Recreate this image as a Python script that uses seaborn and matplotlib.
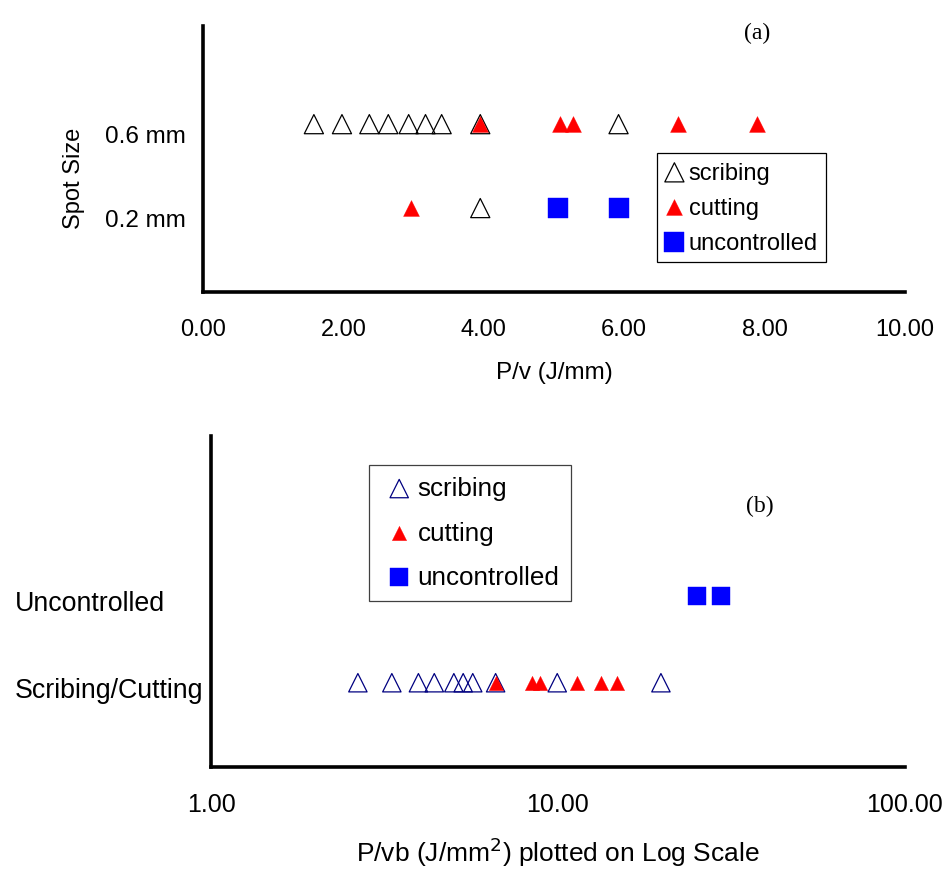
import matplotlib

matplotlib.use("Agg")
import matplotlib.pyplot as plt
import matplotlib.ticker as mticker
import matplotlib.transforms as mtransforms
import pandas as pd
import seaborn as sns

# (a) P/v (J/mm) by spot size
spot_sizes = ["0.2 mm", "0.6 mm"]
scribing_06 = [1.58, 1.98, 2.37, 2.64, 2.93, 3.17, 3.40, 3.95, 5.92]
cutting_06 = [3.95, 5.08, 5.27, 6.76, 7.89]
scribing_02 = [3.95]
cutting_02 = [2.96]
uncontrolled_02 = [5.06, 5.92]
ticks_a = [0, 2, 4, 6, 8, 10]

# (b) P/vb (J/mm^2), log scale
regimes = ["Scribing/Cutting", "Uncontrolled"]
scribing_b = [2.65, 3.32, 3.96, 4.40, 5.01, 5.33, 5.68, 6.61, 9.95, 19.8]
cutting_b = [6.61, 8.40, 8.88, 11.32, 13.28, 14.82]
uncontrolled_b = [25.2, 29.5]
ticks_b = [1, 10, 100]


def rows(values, category, categories):
    return pd.DataFrame({"x": values, "y": [categories.index(category) + 1] * len(values)})


def shift_labels(labels, dy_px, fig):
    shift = mtransforms.ScaledTranslation(0, -dy_px / fig.dpi, fig.dpi_scale_trans)
    for lbl in labels:
        lbl.set_transform(lbl.get_transform() + shift)


sns.set_theme(style="white")
plt.rcParams["font.family"] = ["Liberation Sans", "DejaVu Sans"]
plt.rcParams.update({"text.color": "black", "axes.labelcolor": "black",
                     "xtick.color": "black", "ytick.color": "black"})

fig = plt.figure(figsize=(9.48, 8.78), dpi=100)
ax_a = fig.add_axes([0.2141, 0.6663, 0.7405, 0.3030])
ax_b = fig.add_axes([0.2226, 0.1253, 0.7320, 0.3770])

# ---- panel (a)
scr_a = pd.concat([rows(scribing_06, "0.6 mm", spot_sizes), rows(scribing_02, "0.2 mm", spot_sizes)])
cut_a = pd.concat([rows(cutting_06, "0.6 mm", spot_sizes), rows(cutting_02, "0.2 mm", spot_sizes)])
unc_a = rows(uncontrolled_02, "0.2 mm", spot_sizes)

sns.scatterplot(data=scr_a, x="x", y="y", marker="^", s=190, facecolor="none",
                edgecolor="black", linewidth=0.9, label="scribing", ax=ax_a, zorder=3)
sns.scatterplot(data=cut_a, x="x", y="y", marker="^", s=130, facecolor="#ff0000",
                edgecolor="#ff0000", linewidth=0.3, label="cutting", ax=ax_a, zorder=4)
sns.scatterplot(data=unc_a, x="x", y="y", marker="s", s=200, facecolor="#0000ff",
                edgecolor="#0000ff", linewidth=0.3, label="uncontrolled", ax=ax_a, zorder=4)

ax_a.set_xlim(0, 10)
ax_a.set_ylim(0, 3.17)
ax_a.set_xticks(ticks_a)
ax_a.xaxis.set_major_formatter(mticker.FormatStrFormatter("%.2f"))
ax_a.set_yticks(range(1, len(spot_sizes) + 1))
ax_a.set_yticklabels(spot_sizes)
ax_a.set_xlabel("P/v (J/mm)", fontsize=17.5, labelpad=15)
ax_a.set_ylabel("Spot Size", fontsize=17)
ax_a.yaxis.set_label_coords(-0.168, 0.43)
ax_a.tick_params(axis="x", length=7, width=2.2, pad=12, labelsize=17, direction="out")
ax_a.tick_params(axis="y", length=0, pad=12, labelsize=17.5)
shift_labels(ax_a.get_yticklabels(), 9, fig)
ax_a.text(0.79, 0.975, "(a)", transform=ax_a.transAxes, ha="center", va="center",
          fontsize=17, family=["Liberation Serif", "DejaVu Serif"])
leg_a = ax_a.legend(loc="upper left", bbox_to_anchor=(0.6927, 0.8243), bbox_transform=fig.transFigure,
                    borderaxespad=0, fontsize=17, frameon=True, fancybox=False, framealpha=1,
                    edgecolor="black", labelspacing=0.55, borderpad=0.35, handlelength=0.8,
                    handletextpad=0.2)
leg_a.get_frame().set_linewidth(0.9)

# ---- panel (b)
scr_b = rows(scribing_b, "Scribing/Cutting", regimes)
cut_b = rows(cutting_b, "Scribing/Cutting", regimes)
unc_b = rows(uncontrolled_b, "Uncontrolled", regimes)

sns.scatterplot(data=scr_b, x="x", y="y", marker="^", s=175, facecolor="none",
                edgecolor="#000080", linewidth=0.9, label="scribing", ax=ax_b, zorder=3)
sns.scatterplot(data=cut_b, x="x", y="y", marker="^", s=105, facecolor="#ff0000",
                edgecolor="#ff0000", linewidth=0.3, label="cutting", ax=ax_b, zorder=4)
sns.scatterplot(data=unc_b, x="x", y="y", marker="s", s=170, facecolor="#0000ff",
                edgecolor="#0000ff", linewidth=0.3, label="uncontrolled", ax=ax_b, zorder=4)

ax_b.set_xscale("log")
ax_b.set_xlim(1, 100)
ax_b.set_ylim(0.03, 3.84)
ax_b.set_xticks(ticks_b)
ax_b.xaxis.set_major_formatter(mticker.FormatStrFormatter("%.2f"))
ax_b.xaxis.set_minor_locator(mticker.NullLocator())
ax_b.set_yticks(range(1, len(regimes) + 1))
ax_b.set_yticklabels(regimes)
ax_b.set_xlabel("P/vb (J/mm$^2$) plotted on Log Scale", fontsize=19, labelpad=13)
ax_b.set_ylabel("")
ax_b.tick_params(axis="x", length=7, width=2.2, pad=11, labelsize=18, direction="out")
ax_b.tick_params(axis="y", length=0, pad=141, labelsize=19.3)
for lbl in ax_b.get_yticklabels():
    lbl.set_horizontalalignment("left")
shift_labels(ax_b.get_yticklabels(), 4, fig)
ax_b.text(0.791, 0.789, "(b)", transform=ax_b.transAxes, ha="center", va="center",
          fontsize=17, family=["Liberation Serif", "DejaVu Serif"])
leg_b = ax_b.legend(loc="upper left", bbox_to_anchor=(0.3896, 0.4696), bbox_transform=fig.transFigure,
                    borderaxespad=0, fontsize=18.7, frameon=True, fancybox=False, framealpha=1,
                    edgecolor="#404040", labelspacing=0.78, borderpad=0.45, handlelength=1.4,
                    handletextpad=0.0)
leg_b.get_frame().set_linewidth(0.9)

for ax in (ax_a, ax_b):
    sns.despine(ax=ax)
    for side in ("left", "bottom"):
        ax.spines[side].set_linewidth(2.6)
        ax.spines[side].set_color("black")

fig.savefig("out.png", dpi=100, facecolor="white")
